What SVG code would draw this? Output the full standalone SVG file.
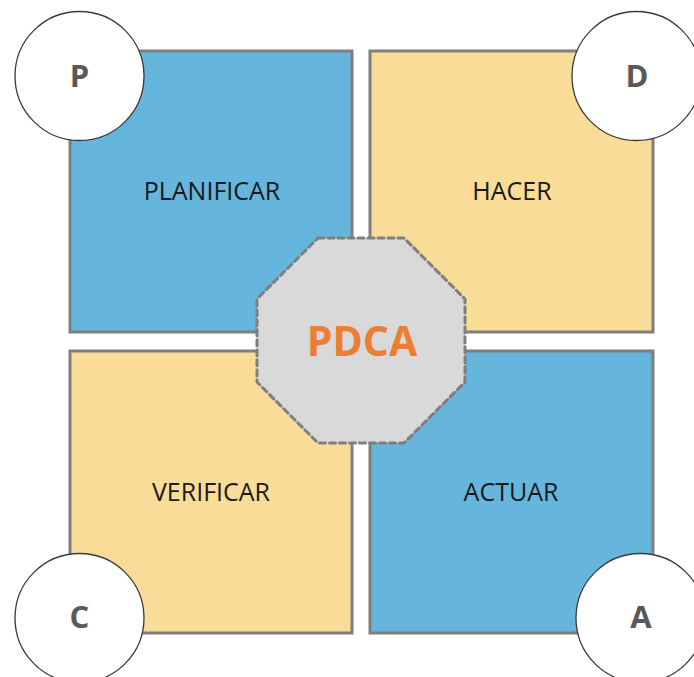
<svg xmlns="http://www.w3.org/2000/svg" width="694" height="677" viewBox="0 0 694 677">
  <style>
    .quad { stroke: #7f7f7f; stroke-width: 3; }
    .blue { fill: #65b5dc; }
    .gold { fill: #f8dc97; }
    .label { font-family: "Open Sans", "Liberation Sans", sans-serif; font-size: 25px; fill: #1a1a1a; text-anchor: middle; }
    .badge { fill: #ffffff; stroke: #3a3a3a; stroke-width: 1.3; }
    .letter { font-family: "Open Sans", "Liberation Sans", sans-serif; font-size: 31px; font-weight: bold; fill: #595959; text-anchor: middle; }
    .hub { fill: #d9d9d9; stroke: #7f7f7f; stroke-width: 3; stroke-dasharray: 6 4; stroke-linecap: round; stroke-linejoin: round; }
    .hub-text { font-family: "Open Sans", "Liberation Sans", sans-serif; font-size: 41px; font-weight: bold; fill: #ed7d31; text-anchor: middle; }
  </style>
  <rect width="694" height="677" fill="#ffffff"/>

  <!-- four quadrants -->
  <g id="planificar">
    <rect class="quad blue" x="70" y="51" width="282" height="281"/>
    <text class="label" x="212" y="200">PLANIFICAR</text>
  </g>
  <g id="hacer">
    <rect class="quad gold" x="370" y="51" width="283" height="281"/>
    <text class="label" x="512" y="200">HACER</text>
  </g>
  <g id="verificar">
    <rect class="quad gold" x="70" y="351" width="282" height="282"/>
    <text class="label" x="211" y="501">VERIFICAR</text>
  </g>
  <g id="actuar">
    <rect class="quad blue" x="370" y="351" width="283" height="282"/>
    <text class="label" x="511" y="501">ACTUAR</text>
  </g>

  <!-- central hub -->
  <g id="pdca">
    <polygon class="hub" points="318,238 404,238 465,299 465,382 404,443 318,443 257,382 257,299"/>
    <text class="hub-text" x="362" y="356">PDCA</text>
  </g>

  <!-- corner badges -->
  <g id="badge-p">
    <circle class="badge" cx="79.5" cy="76" r="64.5"/>
    <text class="letter" x="79.5" y="87">P</text>
  </g>
  <g id="badge-d">
    <circle class="badge" cx="636.5" cy="76" r="64.5"/>
    <text class="letter" x="637" y="87">D</text>
  </g>
  <g id="badge-c">
    <circle class="badge" cx="79.5" cy="618" r="64.5"/>
    <text class="letter" x="79.5" y="628">C</text>
  </g>
  <g id="badge-a">
    <circle class="badge" cx="640.5" cy="618" r="64.5"/>
    <text class="letter" x="641" y="628">A</text>
  </g>

  <g id="connectors"/>
</svg>
